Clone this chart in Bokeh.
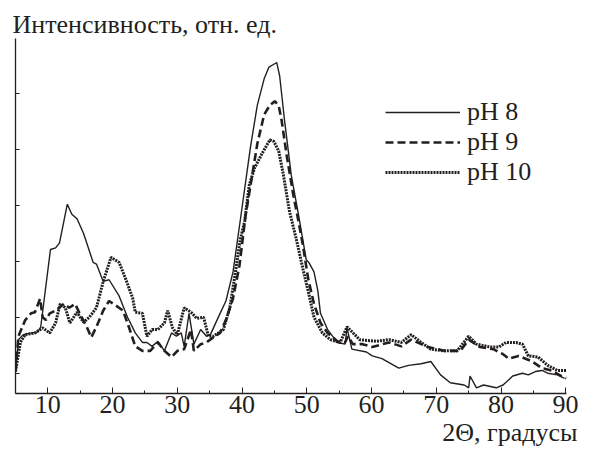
from bokeh.plotting import figure
from bokeh.models import Range1d, SingleIntervalTicker, Legend, LegendItem, Title
from bokeh.embed import file_html
from bokeh.resources import INLINE

# --- data (2Theta in degrees, intensity in arbitrary units) ---
ph8_x = [5.0, 5.45, 6.2, 8.46, 8.9, 10.4, 11.2, 11.8, 13.0, 13.7, 14.5, 15.5, 17.0, 17.5, 18.55,
         19.45, 21.0, 22.3, 23.5, 24.6, 25.3, 26.1, 27.0, 28.0, 29.1, 29.85, 30.6, 31.05, 31.8, 32.55,
         33.6, 34.5, 35.1, 36.6, 37.5, 38.6, 39.7, 41.3, 42.35, 43.4, 44.15, 44.9, 45.35, 45.8, 46.55,
         47.6, 48.7, 49.9, 50.3, 51.1, 51.7, 52.1, 53.2, 54.7, 55.9, 56.2, 56.95, 59.2, 60.1, 61.6,
         64.2, 65.7, 67.65, 69.15, 70.65, 72.15, 74.3, 75.0, 75.2, 76.2, 77.3, 79.25, 80.3, 81.8, 83.3,
         84.2, 85.3, 86.3, 87.2, 88.7, 89.8]
ph8_y = [0.03, 0.60, 0.69, 0.74, 0.83, 2.21, 2.24, 2.33, 3.02, 2.84, 2.76, 2.50, 1.98, 1.95, 1.64,
         1.67, 1.38, 1.00, 0.72, 0.55, 0.55, 0.48, 0.57, 0.40, 0.72, 0.66, 0.72, 0.48, 1.07, 0.52,
         0.78, 0.66, 0.69, 1.07, 1.29, 1.81, 2.72, 4.05, 4.79, 5.26, 5.47, 5.52, 5.55, 5.31, 4.52,
         3.53, 2.84, 2.03, 1.98, 1.81, 1.47, 1.07, 0.78, 0.55, 0.52, 0.81, 0.43, 0.38, 0.31, 0.26,
         0.09, 0.14, 0.17, 0.21, -0.03, -0.17, -0.21, -0.26, -0.05, -0.26, -0.21, -0.26, -0.21, -0.05, 0.0,
         -0.03, 0.03, 0.05, 0.0, -0.03, -0.09]

ph9_x = [5.0, 5.45, 6.5, 7.4, 8.0, 8.8, 9.2, 9.7, 10.3, 11.2, 12.5, 13.3, 14.2, 14.9, 16.0,
         16.7, 17.5, 18.55, 19.45, 20.5, 21.6, 22.5, 23.5, 24.6, 25.8, 27.0, 28.0, 29.1, 30.0, 31.05,
         32.1, 32.55, 33.6, 34.5, 35.55, 36.6, 37.5, 38.6, 39.6, 40.5, 41.3, 42.35, 43.4, 44.3, 45.05,
         45.65, 46.1, 46.9, 47.9, 48.7, 49.4, 50.2, 51.1, 52.1, 53.2, 54.7, 55.9, 56.35, 57.1, 58.6,
         60.1, 62.7, 64.6, 66.1, 68.7, 71.25, 73.7, 75.0, 76.7, 78.8, 80.3, 81.2, 82.7, 84.8, 86.3,
         87.8, 89.3, 90.1]
ph9_y = [0.03, 0.66, 0.95, 1.07, 1.09, 1.33, 1.00, 0.95, 1.07, 1.12, 1.24, 1.17, 1.24, 1.07, 0.83,
         0.64, 0.83, 1.12, 1.29, 1.21, 1.12, 0.83, 0.48, 0.40, 0.40, 0.55, 0.40, 0.29, 0.40, 0.43,
         0.78, 0.40, 0.52, 0.55, 0.64, 0.72, 0.95, 1.34, 1.93, 2.79, 3.36, 4.10, 4.62, 4.79, 4.86,
         4.78, 4.52, 3.88, 3.19, 2.72, 2.28, 1.69, 1.24, 0.90, 0.72, 0.57, 0.55, 0.66, 0.52, 0.52,
         0.47, 0.55, 0.48, 0.60, 0.47, 0.40, 0.40, 0.60, 0.47, 0.43, 0.34, 0.26, 0.31, 0.21, 0.09,
         0.05, -0.05, -0.09]

ph10_x = [5.0, 5.75, 6.5, 8.0, 9.2, 10.3, 11.2, 11.9, 12.7, 13.4, 14.5, 15.5, 16.4, 17.5, 18.55,
          19.75, 21.0, 22.0, 23.1, 23.5, 24.6, 25.3, 26.1, 27.0, 28.0, 28.5, 29.25, 30.0, 31.05, 32.1,
          33.0, 34.05, 34.8, 35.55, 37.1, 38.1, 39.0, 39.7, 40.4, 41.1, 41.9, 43.1, 44.3, 44.9, 45.65,
          46.4, 47.3, 48.4, 49.4, 50.2, 51.1, 52.4, 53.6, 55.15, 56.2, 58.15, 60.7, 62.7, 64.6, 66.1,
          67.65, 69.15, 71.25, 73.2, 75.0, 76.2, 78.2, 79.7, 80.75, 82.3, 83.3, 84.2, 85.7, 87.2, 88.7,
          90.1]
ph10_y = [0.03, 0.55, 0.69, 0.72, 0.81, 0.72, 0.90, 1.24, 1.17, 0.90, 1.09, 0.91, 1.00, 1.17, 1.64,
          2.07, 1.98, 1.69, 1.34, 1.09, 1.07, 0.66, 0.78, 0.78, 0.90, 1.12, 0.81, 0.69, 1.17, 1.09,
          0.98, 1.00, 0.66, 0.66, 0.78, 1.17, 1.83, 2.38, 2.72, 3.36, 3.66, 3.93, 4.17, 4.14, 3.97,
          3.53, 2.90, 2.38, 1.86, 1.47, 1.00, 0.72, 0.60, 0.55, 0.83, 0.60, 0.57, 0.60, 0.55, 0.69,
          0.55, 0.43, 0.40, 0.40, 0.66, 0.52, 0.47, 0.47, 0.55, 0.55, 0.52, 0.31, 0.29, 0.14, 0.05,
          0.05]

series_labels = ["pH 8", "pH 9", "pH 10"]
y_title = "Интенсивность, отн. ед."
x_title = "2Θ, градусы"

INK = "#231f20"
FONT = "'Liberation Serif', serif"
FS = "26px"

p = figure(width=578, height=446, output_backend="svg", toolbar_location=None,
           x_range=Range1d(5, 90.1), y_range=Range1d(-0.362, 5.98),
           min_border_left=15, min_border_right=12, min_border_top=38, min_border_bottom=0,
           outline_line_color=None, background_fill_color="white", border_fill_color="white")

p.xgrid.visible = False
p.ygrid.visible = False

xa = p.xaxis[0]
xa.ticker = SingleIntervalTicker(interval=10, num_minor_ticks=2)
xa.axis_line_color = INK
xa.axis_line_width = 1.3
xa.major_tick_line_color = INK
xa.minor_tick_line_color = INK
xa.major_tick_in = 6
xa.major_tick_out = 0
xa.minor_tick_in = 3
xa.minor_tick_out = 0
xa.major_label_text_font = FONT
xa.major_label_text_font_size = FS
xa.major_label_text_color = INK
xa.major_label_standoff = 2

ya = p.yaxis[0]
ya.ticker = SingleIntervalTicker(interval=1, num_minor_ticks=0)
ya.axis_line_color = INK
ya.axis_line_width = 1.3
ya.major_tick_line_color = INK
ya.major_tick_in = 4
ya.major_tick_out = 0
ya.minor_tick_line_color = None
ya.major_label_text_font_size = "0px"
ya.major_label_standoff = 0

r8 = p.line(ph8_x, ph8_y, line_color=INK, line_width=1.4)
r9 = p.line(ph9_x, ph9_y, line_color=INK, line_width=2.6, line_dash="8 4")
r10 = p.line(ph10_x, ph10_y, line_color=INK, line_width=3.0, line_dash="2 1")

legend = Legend(items=[LegendItem(label=series_labels[0], renderers=[r8]),
                       LegendItem(label=series_labels[1], renderers=[r9]),
                       LegendItem(label=series_labels[2], renderers=[r10])],
                location=(370, 206), glyph_width=75, glyph_height=28, label_standoff=7,
                spacing=0, padding=0, margin=0, border_line_color=None,
                background_fill_alpha=0, label_text_font=FONT, label_text_font_size=FS,
                label_text_color=INK, label_height=28)
p.add_layout(legend, "center")

p.title.text = y_title
p.title.align = "left"
p.title.offset = -3
p.title.standoff = 0
p.title.text_font = FONT
p.title.text_font_size = FS
p.title.text_font_style = "normal"
p.title.text_color = INK

p.add_layout(Title(text=x_title, align="right", offset=-11, standoff=0,
                   text_font=FONT, text_font_size=FS, text_font_style="normal",
                   text_color=INK), "below")

open("out.html", "w").write(file_html(p, INLINE))
